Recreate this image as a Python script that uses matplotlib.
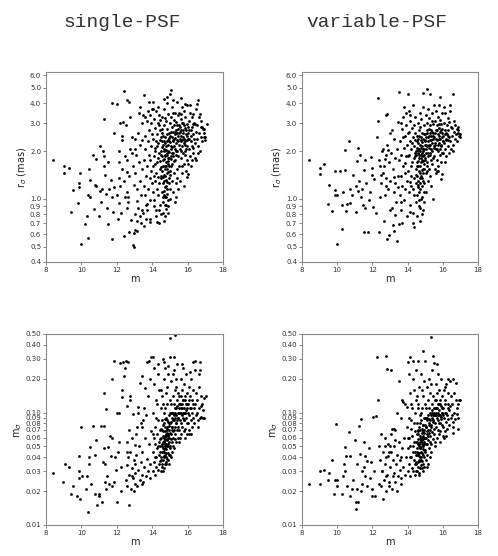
import matplotlib
matplotlib.use('Agg')
import matplotlib.pyplot as plt
import numpy as np
from matplotlib.ticker import FixedLocator, FixedFormatter, NullLocator

# panel titles
titles = ['single-PSF', 'variable-PSF']

# x axis (magnitude m)
m_ticks = [8, 10, 12, 14, 16, 18]

# y ticks for r_sigma (mas) and m_sigma
r_ticks = [0.4, 0.5, 0.6, 0.7, 0.8, 0.9, 1.0, 2.0, 3.0, 4.0, 5.0, 6.0]
msig_ticks = [0.01, 0.02, 0.03, 0.04, 0.05, 0.06, 0.07, 0.08, 0.09, 0.10, 0.20, 0.30, 0.40, 0.50]

# ---- single-PSF, r_sigma (m, mas) ----
single_r = [
    (8.4, 1.75), (9.0, 1.6), (9.0, 1.45), (9.3, 1.56), (9.5, 1.13), (9.4, 0.83), (9.8, 0.94), (9.85, 1.25),
    (9.87, 1.19), (9.9, 1.45), (10.0, 0.52), (10.2, 0.69), (10.3, 0.78), (10.4, 0.57), (10.4, 1.05), (10.45, 1.54),
    (10.5, 1.32), (10.5, 1.03), (10.65, 1.9), (10.7, 0.86), (10.75, 1.23), (10.85, 1.2), (10.85, 1.78), (11.0, 0.78),
    (11.05, 2.15), (11.05, 1.12), (11.1, 0.96), (11.15, 1.15), (11.2, 2.0), (11.25, 3.2), (11.3, 1.85), (11.3, 1.62),
    (11.35, 1.42), (11.4, 1.07), (11.45, 0.88), (11.5, 0.69), (11.5, 1.7), (11.55, 1.16), (11.65, 1.32), (11.7, 1.02),
    (11.7, 4.0), (11.75, 0.56), (11.8, 0.83), (11.85, 2.6), (11.85, 1.19), (12.0, 3.95), (12.0, 1.05), (12.05, 0.75),
    (12.1, 2.0), (12.1, 1.35), (12.15, 0.94), (12.2, 3.0), (12.25, 0.82), (12.3, 2.5), (12.3, 2.35), (12.35, 3.05),
    (12.4, 4.8), (12.4, 0.58), (12.45, 1.03), (12.5, 2.9), (12.55, 0.88), (12.55, 1.47), (12.6, 4.2), (12.65, 1.02),
    (12.7, 4.1), (12.7, 0.62), (12.75, 3.3), (12.8, 0.74), (12.85, 2.45), (12.9, 0.51), (12.95, 0.61), (12.95, 0.5),
    (13.0, 0.8), (13.05, 2.07), (13.05, 0.64), (13.15, 0.63), (13.15, 0.97), (13.3, 0.78), (13.3, 3.8), (13.35, 0.7),
    (13.4, 0.85), (13.45, 2.35), (13.5, 3.4), (13.55, 4.5), (13.55, 0.67), (13.65, 0.75), (13.7, 0.93), (13.8, 4.05),
    (13.85, 0.71), (14.0, 3.7), (14.05, 4.1), (14.2, 0.85), (14.25, 0.71), (14.4, 0.7), (14.65, 4.25), (14.85, 4.4),
    (14.9, 0.82), (15.0, 4.55), (15.05, 4.85), (15.2, 4.2), (15.35, 1.03), (15.6, 4.3), (15.85, 3.95), (15.95, 1.37),
    (16.05, 1.44), (16.45, 1.75), (16.55, 3.95), (16.6, 4.2), (16.7, 3.45), (16.8, 2.85), (16.9, 2.45), (17.0, 2.35),
    (17.1, 2.95), (16.95, 2.75),
    (13.05, 1.45), (13.1, 1.9), (13.12, 1.15), (13.18, 2.6), (13.22, 0.88), (13.25, 1.7), (13.3, 1.3), (13.33, 2.2),
    (13.38, 1.05), (13.42, 3.0), (13.45, 1.55), (13.48, 0.82), (13.02, 2.4), (13.15, 0.72), (13.28, 3.5), (12.9, 1.6),
    (12.95, 1.22), (12.85, 1.95), (12.7, 1.4), (12.6, 1.75), (12.75, 2.05), (12.55, 1.1), (12.45, 1.85), (12.65, 0.95),
    (12.3, 1.55), (12.2, 1.2), (12.15, 1.7), (12.4, 1.3),
    (13.52, 1.2), (13.55, 1.75), (13.58, 2.5), (13.6, 1.05), (13.62, 2.05), (13.65, 1.4), (13.68, 3.1), (13.7, 0.85),
    (13.72, 1.6), (13.75, 2.3), (13.78, 1.15), (13.8, 2.7), (13.82, 1.9), (13.85, 1.35), (13.88, 3.4), (13.9, 0.98),
    (13.92, 2.15), (13.95, 1.5), (13.97, 2.55), (13.99, 1.25), (13.6, 3.3), (13.75, 3.6), (13.85, 0.75), (13.95, 3.0),
    (13.65, 0.92), (13.9, 1.75),
    (14.02, 1.1), (14.04, 2.4), (14.06, 1.6), (14.08, 3.2), (14.1, 0.9), (14.12, 1.85), (14.14, 2.8), (14.16, 1.3),
    (14.18, 2.1), (14.2, 3.6), (14.22, 1.45), (14.24, 0.78), (14.26, 2.55), (14.28, 1.7), (14.3, 3.0), (14.32, 1.05),
    (14.34, 2.25), (14.36, 1.95), (14.38, 3.4), (14.4, 1.25), (14.42, 2.7), (14.44, 0.92), (14.46, 1.55), (14.48, 2.0),
    (14.05, 3.7), (14.15, 2.0), (14.25, 1.15), (14.35, 3.8), (14.45, 2.35), (14.12, 0.98), (14.3, 1.8), (14.4, 2.9),
    (14.2, 2.3), (14.48, 1.35), (14.38, 0.85), (14.08, 1.4), (14.28, 2.15), (14.45, 3.15), (14.18, 1.65), (14.33, 1.38),
    (14.5, 0.8), (14.52, 1.9), (14.53, 2.6), (14.55, 1.1), (14.56, 3.3), (14.58, 1.5), (14.6, 2.2), (14.61, 0.95),
    (14.62, 1.75), (14.64, 2.9), (14.65, 1.3), (14.66, 0.72), (14.68, 2.05), (14.69, 3.7), (14.7, 1.6), (14.72, 1.02),
    (14.73, 2.45), (14.74, 1.85), (14.76, 3.1), (14.77, 1.2), (14.78, 0.86), (14.8, 2.15), (14.81, 1.45), (14.82, 2.75),
    (14.84, 1.95), (14.85, 4.0), (14.86, 1.08), (14.88, 2.35), (14.89, 1.65), (14.9, 3.45), (14.91, 0.9), (14.92, 2.0),
    (14.94, 1.35), (14.95, 2.6), (14.96, 1.8), (14.98, 3.0), (14.99, 1.15), (14.55, 2.3), (14.6, 1.25), (14.65, 2.0),
    (14.7, 1.4), (14.75, 2.25), (14.8, 1.7), (14.85, 1.55), (14.9, 2.2), (14.95, 1.25), (14.58, 2.75), (14.63, 1.62),
    (14.71, 1.9), (14.79, 1.02), (14.87, 1.82), (14.93, 1.6), (14.52, 1.4), (14.67, 1.12), (14.83, 1.28), (14.97, 2.3),
    (14.74, 0.78), (14.6, 0.82), (14.88, 0.98), (14.7, 3.25),
    (15.0, 1.5), (15.02, 2.5), (15.03, 1.0), (15.05, 3.3), (15.06, 1.85), (15.08, 2.15), (15.1, 1.3), (15.11, 2.85),
    (15.13, 1.65), (15.14, 3.8), (15.15, 2.3), (15.17, 1.1), (15.18, 2.65), (15.2, 1.95), (15.21, 3.15), (15.23, 1.45),
    (15.24, 2.4), (15.26, 0.95), (15.27, 2.05), (15.29, 3.5), (15.3, 1.75), (15.32, 2.7), (15.33, 1.25), (15.35, 2.25),
    (15.36, 3.05), (15.38, 1.55), (15.39, 4.1), (15.41, 2.0), (15.42, 2.9), (15.44, 1.15), (15.45, 2.5), (15.47, 1.85),
    (15.48, 3.4), (15.49, 2.2), (15.05, 2.05), (15.12, 2.45), (15.22, 1.72), (15.28, 2.55), (15.34, 2.0), (15.4, 1.35),
    (15.46, 2.75), (15.16, 3.5), (15.08, 1.62), (15.25, 2.9), (15.38, 2.35),
    (15.5, 1.6), (15.52, 2.6), (15.54, 3.5), (15.55, 2.05), (15.57, 1.3), (15.59, 2.85), (15.6, 2.3), (15.62, 1.8),
    (15.64, 3.2), (15.65, 2.5), (15.67, 1.45), (15.69, 3.8), (15.7, 2.15), (15.72, 2.7), (15.74, 1.95), (15.75, 3.0),
    (15.77, 2.4), (15.79, 1.65), (15.8, 3.6), (15.82, 2.25), (15.84, 2.8), (15.85, 1.9), (15.87, 3.3), (15.89, 2.55),
    (15.9, 2.05), (15.92, 1.5), (15.94, 2.95), (15.95, 2.35), (15.97, 3.9), (15.99, 1.75), (15.56, 2.4), (15.63, 2.0),
    (15.73, 2.45), (15.78, 1.2), (15.86, 2.3), (15.93, 2.7), (15.6, 3.45), (15.7, 1.6), (15.83, 2.0), (15.96, 2.15),
    (16.02, 2.4), (16.04, 1.65), (16.06, 3.1), (16.08, 2.05), (16.1, 2.7), (16.12, 1.85), (16.15, 3.5), (16.17, 2.3),
    (16.2, 1.6), (16.22, 2.85), (16.25, 2.15), (16.27, 3.3), (16.3, 1.95), (16.32, 2.55), (16.35, 2.4), (16.38, 3.0),
    (16.4, 1.8), (16.43, 2.25), (16.45, 2.65), (16.48, 3.7), (16.05, 2.6), (16.18, 2.5), (16.28, 2.1), (16.42, 2.95),
    (16.12, 3.9), (16.33, 3.45), (16.24, 1.75),
    (16.52, 2.4), (16.55, 2.9), (16.58, 2.15), (16.62, 3.3), (16.65, 2.6), (16.7, 2.0), (16.73, 2.45), (16.78, 3.1),
    (16.82, 2.3), (16.88, 2.75), (16.92, 2.6), (17.0, 2.45), (16.6, 1.95), (16.75, 2.85),
    (14.43, 1.72), (14.47, 2.45), (14.51, 1.58), (14.54, 2.12), (14.57, 1.85), (14.59, 1.03), (14.62, 2.48),
    (14.64, 1.42), (14.67, 1.78), (14.69, 2.3), (14.71, 1.55), (14.73, 0.92), (14.76, 2.02), (14.78, 1.62),
    (14.81, 2.32), (14.83, 1.88), (14.86, 2.55), (14.88, 1.48), (14.91, 1.72), (14.93, 2.42), (14.96, 1.98),
    (14.98, 1.42), (15.01, 2.28), (15.04, 1.78), (15.07, 2.62), (15.09, 1.95), (15.12, 2.12), (15.15, 1.85),
    (15.19, 2.35), (15.22, 2.15), (15.26, 2.65), (15.31, 2.42), (15.35, 1.9), (15.4, 2.6), (15.44, 2.3), (15.5, 2.9),
    (15.55, 2.62), (15.61, 2.72), (15.66, 3.0), (15.71, 2.35), (15.76, 2.6), (15.81, 2.9), (15.88, 2.2), (15.95, 2.5),
    (16.03, 2.85), (16.1, 2.4), (16.2, 2.7), (16.3, 2.95), (14.66, 1.05), (14.72, 1.18), (14.8, 0.92), (14.84, 1.15),
    (14.62, 1.38), (14.76, 1.32),
]

# ---- variable-PSF, r_sigma (m, mas) ----
variable_r = [
    (8.4, 1.75), (9.05, 1.56), (9.05, 1.43), (9.25, 1.65), (9.45, 0.93), (9.55, 1.23), (9.7, 0.84), (9.85, 1.14),
    (9.85, 1.06), (9.9, 1.49), (10.0, 1.06), (10.0, 0.52), (10.15, 1.5), (10.3, 0.65), (10.3, 0.91), (10.35, 1.11),
    (10.45, 2.04), (10.45, 1.51), (10.5, 0.84), (10.55, 0.93), (10.65, 2.33), (10.7, 0.94), (10.75, 1.16), (10.85, 1.05),
    (10.9, 1.41), (11.05, 0.83), (11.05, 1.2), (11.15, 1.73), (11.2, 2.08), (11.2, 1.12), (11.25, 1.3), (11.3, 1.9),
    (11.35, 1.03), (11.4, 1.16), (11.45, 0.92), (11.5, 0.62), (11.5, 1.53), (11.6, 0.87), (11.6, 1.75), (11.65, 1.25),
    (11.75, 0.62), (11.8, 0.99), (11.85, 1.1), (11.9, 1.83), (11.95, 1.41), (12.0, 1.56), (12.05, 0.89), (12.1, 1.34),
    (12.2, 0.81), (12.25, 2.45), (12.3, 4.35), (12.3, 3.1), (12.35, 1.75), (12.35, 0.62), (12.45, 1.03), (12.5, 1.41),
    (12.6, 2.06), (12.65, 0.73), (12.7, 1.77), (12.75, 3.37), (12.8, 1.2), (12.85, 0.56), (12.85, 3.45), (12.9, 2.02),
    (12.95, 0.59), (13.0, 0.85), (13.1, 2.7), (13.15, 0.68), (13.2, 1.38), (13.25, 0.63), (13.3, 0.79), (13.4, 0.54),
    (13.45, 1.19), (13.5, 4.7), (13.5, 0.69), (13.6, 0.95), (13.7, 0.7), (14.0, 4.6), (14.15, 0.83), (14.3, 0.7),
    (14.35, 0.66), (14.85, 4.65), (15.1, 4.9), (15.3, 4.6), (15.85, 4.4), (16.6, 4.6), (16.4, 3.9), (15.65, 1.5),
    (15.9, 1.34), (15.95, 1.44), (16.85, 2.85), (16.95, 2.55),
    (12.42, 1.6), (12.5, 1.25), (12.55, 2.0), (12.62, 1.45), (12.7, 1.05), (12.75, 1.9), (12.8, 1.35), (12.85, 2.2),
    (12.9, 1.15), (12.95, 1.7), (13.0, 1.3), (13.05, 1.95), (13.1, 0.88), (13.15, 1.55), (13.2, 2.4), (13.25, 1.1),
    (13.3, 1.8), (13.35, 0.95), (13.4, 2.05), (13.45, 1.4), (13.48, 3.05), (12.65, 1.6), (13.0, 2.6), (13.3, 1.25),
    (13.52, 1.75), (13.55, 1.05), (13.58, 2.3), (13.6, 1.4), (13.63, 0.85), (13.65, 1.9), (13.68, 2.75), (13.7, 1.2),
    (13.73, 1.6), (13.75, 3.3), (13.78, 0.98), (13.8, 2.1), (13.83, 1.45), (13.85, 2.5), (13.88, 1.15), (13.9, 1.85),
    (13.93, 3.5), (13.95, 1.3), (13.97, 2.2), (13.99, 0.78), (13.62, 3.0), (13.8, 3.8), (13.9, 2.9), (13.72, 2.45),
    (13.86, 1.68),
    (14.02, 1.5), (14.04, 2.6), (14.06, 1.1), (14.08, 3.6), (14.1, 1.9), (14.12, 0.92), (14.14, 2.3), (14.16, 3.1),
    (14.18, 1.4), (14.2, 2.05), (14.22, 1.2), (14.24, 2.8), (14.26, 1.7), (14.28, 0.82), (14.3, 2.45), (14.32, 3.9),
    (14.34, 1.35), (14.36, 2.15), (14.38, 1.05), (14.4, 3.3), (14.42, 1.85), (14.44, 2.6), (14.46, 1.25), (14.48, 2.0),
    (14.1, 2.65), (14.2, 1.62), (14.3, 1.15), (14.4, 2.35), (14.15, 3.4), (14.35, 1.8), (14.45, 0.95), (14.25, 2.25),
    (14.05, 1.85), (14.38, 2.9), (14.47, 1.55), (14.13, 1.28),
    (14.5, 1.9), (14.52, 1.05), (14.53, 2.5), (14.55, 0.78), (14.56, 2.1), (14.58, 1.6), (14.6, 3.0), (14.61, 1.3),
    (14.62, 2.25), (14.64, 0.9), (14.65, 1.8), (14.66, 2.7), (14.68, 1.15), (14.69, 3.5), (14.7, 2.0), (14.72, 1.45),
    (14.73, 0.72), (14.74, 2.35), (14.76, 1.7), (14.77, 3.2), (14.78, 1.0), (14.8, 1.95), (14.81, 2.6), (14.82, 1.35),
    (14.84, 2.15), (14.85, 0.85), (14.86, 3.8), (14.88, 1.55), (14.89, 2.4), (14.9, 1.85), (14.91, 1.1), (14.92, 2.9),
    (14.94, 1.65), (14.95, 2.05), (14.96, 1.25), (14.98, 2.55), (14.99, 1.75), (14.55, 1.4), (14.6, 1.95), (14.67, 1.5),
    (14.75, 1.9), (14.83, 1.75), (14.9, 1.45), (14.97, 2.2), (14.63, 2.05), (14.71, 1.25), (14.79, 2.1), (14.87, 1.3),
    (14.94, 0.95), (14.58, 2.4), (14.72, 2.85), (14.8, 0.8), (14.66, 0.98), (14.88, 2.05), (14.52, 1.7),
    (15.0, 2.3), (15.02, 1.45), (15.03, 3.4), (15.05, 1.95), (15.06, 1.1), (15.08, 2.6), (15.1, 1.7), (15.11, 3.0),
    (15.13, 2.15), (15.14, 1.3), (15.15, 2.45), (15.17, 3.7), (15.18, 1.85), (15.2, 2.75), (15.21, 1.55), (15.23, 2.1),
    (15.24, 3.25), (15.26, 1.4), (15.27, 2.35), (15.29, 1.95), (15.3, 2.9), (15.32, 1.2), (15.33, 2.5), (15.35, 2.05),
    (15.36, 3.5), (15.38, 1.65), (15.39, 2.65), (15.41, 2.25), (15.42, 1.0), (15.44, 2.95), (15.45, 1.8), (15.47, 2.4),
    (15.48, 3.9), (15.49, 2.1), (15.07, 2.05), (15.16, 2.3), (15.25, 2.6), (15.33, 1.75), (15.4, 3.1), (15.46, 2.6),
    (15.12, 1.5), (15.28, 2.2),
    (15.5, 2.45), (15.52, 1.85), (15.54, 3.1), (15.55, 2.2), (15.57, 1.55), (15.59, 2.7), (15.6, 3.6), (15.62, 2.05),
    (15.64, 1.45), (15.65, 2.9), (15.67, 2.35), (15.69, 1.75), (15.7, 3.3), (15.72, 2.55), (15.74, 2.0), (15.75, 1.6),
    (15.77, 2.8), (15.79, 3.9), (15.8, 2.25), (15.82, 1.9), (15.84, 2.65), (15.85, 3.15), (15.87, 2.4), (15.89, 1.7),
    (15.9, 2.95), (15.92, 2.15), (15.94, 3.5), (15.95, 1.95), (15.97, 2.6), (15.99, 2.3), (15.58, 2.25), (15.66, 2.05),
    (15.76, 2.4), (15.83, 2.05), (15.93, 2.45), (15.7, 1.5), (15.88, 2.7),
    (16.02, 2.5), (16.04, 1.95), (16.06, 3.0), (16.08, 2.25), (16.1, 2.7), (16.12, 3.5), (16.15, 2.05), (16.17, 2.4),
    (16.2, 1.85), (16.22, 2.9), (16.25, 2.55), (16.27, 3.25), (16.3, 2.15), (16.32, 2.7), (16.35, 1.95), (16.38, 2.45),
    (16.4, 3.6), (16.43, 2.3), (16.45, 2.85), (16.48, 2.05), (16.07, 3.8), (16.18, 2.6), (16.28, 2.35), (16.37, 3.05),
    (16.14, 1.7),
    (16.52, 2.5), (16.55, 2.8), (16.58, 2.2), (16.62, 2.65), (16.65, 3.1), (16.68, 2.4), (16.72, 2.9), (16.75, 2.55),
    (16.8, 2.3), (16.85, 2.7), (16.9, 2.5), (16.95, 2.45), (16.6, 2.0), (16.78, 2.75), (16.88, 2.6),
    (14.43, 1.95), (14.47, 1.42), (14.51, 2.3), (14.54, 1.62), (14.57, 2.02), (14.59, 1.18), (14.62, 1.72),
    (14.64, 2.5), (14.67, 1.88), (14.69, 1.35), (14.71, 2.18), (14.73, 1.6), (14.76, 2.45), (14.78, 1.82),
    (14.81, 1.52), (14.83, 2.28), (14.86, 2.0), (14.88, 1.72), (14.91, 2.55), (14.93, 1.9), (14.96, 1.55),
    (14.98, 2.35), (15.01, 1.8), (15.04, 2.45), (15.07, 2.2), (15.09, 1.62), (15.12, 2.7), (15.15, 1.95),
    (15.19, 2.2), (15.22, 2.5), (15.26, 1.9), (15.31, 2.35), (15.35, 2.7), (15.4, 2.0), (15.44, 2.5), (15.5, 2.15),
    (15.55, 2.6), (15.61, 2.4), (15.66, 2.7), (15.71, 2.2), (15.76, 2.95), (15.81, 2.5), (15.88, 2.2), (15.95, 2.75),
    (16.03, 2.3), (16.1, 2.55), (16.2, 2.35), (16.3, 2.5), (14.66, 1.1), (14.72, 0.88), (14.8, 1.2), (14.84, 1.02),
    (14.6, 1.22), (14.75, 1.4),
]

# ---- single-PSF, m_sigma ----
single_m = [
    (8.4, 0.029), (8.98, 0.024), (9.1, 0.035), (9.3, 0.033), (9.4, 0.019), (9.5, 0.022), (9.75, 0.018), (9.85, 0.026),
    (9.85, 0.030), (9.85, 0.041), (9.9, 0.017), (10.0, 0.075), (10.05, 0.027), (10.25, 0.021), (10.3, 0.027),
    (10.35, 0.013), (10.45, 0.035), (10.45, 0.040), (10.5, 0.049), (10.55, 0.023), (10.65, 0.076), (10.75, 0.019),
    (10.75, 0.042), (10.85, 0.057), (10.9, 0.015), (11.0, 0.019), (11.0, 0.018), (11.1, 0.076), (11.15, 0.016),
    (11.2, 0.036), (11.25, 0.15), (11.3, 0.076), (11.3, 0.048), (11.35, 0.035), (11.35, 0.024), (11.4, 0.021),
    (11.4, 0.107), (11.45, 0.027), (11.5, 0.049), (11.55, 0.023), (11.6, 0.062), (11.65, 0.041), (11.7, 0.20),
    (11.7, 0.022), (11.75, 0.06), (11.85, 0.285), (11.85, 0.024), (11.9, 0.04), (11.95, 0.031), (12.0, 0.10),
    (12.0, 0.016), (12.05, 0.045), (12.15, 0.055), (12.15, 0.10), (12.2, 0.275), (12.25, 0.02), (12.25, 0.033),
    (12.3, 0.16), (12.3, 0.137), (12.35, 0.28), (12.4, 0.21), (12.45, 0.25), (12.5, 0.29), (12.55, 0.115),
    (12.55, 0.045), (12.65, 0.28), (12.7, 0.015), (12.75, 0.14), (12.75, 0.13), (12.85, 0.027), (12.9, 0.097),
    (12.95, 0.02), (13.0, 0.035), (13.05, 0.051), (13.15, 0.075), (13.2, 0.113), (13.3, 0.185), (13.4, 0.21),
    (13.45, 0.023), (13.5, 0.086), (13.6, 0.165), (13.7, 0.28), (13.8, 0.285), (13.95, 0.31), (14.05, 0.31),
    (14.6, 0.30), (15.0, 0.46), (15.3, 0.49), (15.0, 0.31), (15.25, 0.31), (16.4, 0.285), (16.7, 0.28), (16.7, 0.24),
    (16.65, 0.22), (16.75, 0.115), (16.9, 0.135), (17.05, 0.14), (16.75, 0.092), (16.95, 0.089), (16.85, 0.105),
    (12.5, 0.025), (12.55, 0.034), (12.6, 0.022), (12.65, 0.04), (12.7, 0.028), (12.75, 0.045), (12.8, 0.021),
    (12.85, 0.032), (12.9, 0.026), (12.95, 0.038), (13.0, 0.023), (13.05, 0.029), (13.1, 0.042), (13.15, 0.022),
    (13.2, 0.031), (13.25, 0.05), (13.3, 0.025), (13.35, 0.036), (13.4, 0.028), (13.45, 0.045), (13.5, 0.024),
    (13.55, 0.033), (13.6, 0.06), (13.65, 0.027), (13.7, 0.039), (13.75, 0.03), (13.8, 0.052), (13.85, 0.026),
    (13.9, 0.035), (13.95, 0.068), (12.6, 0.055), (12.85, 0.06), (13.1, 0.065), (13.35, 0.08), (13.55, 0.11),
    (13.75, 0.14), (13.9, 0.2), (13.65, 0.095), (13.2, 0.1), (13.45, 0.075), (12.7, 0.07),
    (14.02, 0.03), (14.04, 0.045), (14.06, 0.1), (14.08, 0.036), (14.1, 0.06), (14.12, 0.18), (14.14, 0.028),
    (14.16, 0.052), (14.18, 0.075), (14.2, 0.04), (14.22, 0.13), (14.24, 0.033), (14.26, 0.065), (14.28, 0.048),
    (14.3, 0.22), (14.32, 0.031), (14.34, 0.085), (14.36, 0.042), (14.38, 0.055), (14.4, 0.16), (14.42, 0.037),
    (14.44, 0.07), (14.46, 0.045), (14.48, 0.11), (14.1, 0.25), (14.2, 0.09), (14.3, 0.05), (14.4, 0.035),
    (14.45, 0.058), (14.15, 0.04), (14.35, 0.27), (14.25, 0.12), (14.05, 0.065), (14.47, 0.03),
    (14.5, 0.04), (14.52, 0.06), (14.53, 0.033), (14.55, 0.085), (14.56, 0.05), (14.58, 0.14), (14.6, 0.038),
    (14.61, 0.068), (14.62, 0.045), (14.64, 0.2), (14.65, 0.055), (14.66, 0.032), (14.68, 0.1), (14.69, 0.06),
    (14.7, 0.042), (14.72, 0.075), (14.73, 0.05), (14.74, 0.25), (14.76, 0.036), (14.77, 0.065), (14.78, 0.09),
    (14.8, 0.047), (14.81, 0.12), (14.82, 0.058), (14.84, 0.039), (14.85, 0.17), (14.86, 0.07), (14.88, 0.052),
    (14.89, 0.082), (14.9, 0.044), (14.91, 0.22), (14.92, 0.062), (14.94, 0.035), (14.95, 0.095), (14.96, 0.055),
    (14.98, 0.13), (14.99, 0.048), (14.55, 0.045), (14.6, 0.055), (14.65, 0.04), (14.7, 0.058), (14.75, 0.048),
    (14.8, 0.062), (14.85, 0.05), (14.9, 0.065), (14.95, 0.07), (14.58, 0.07), (14.63, 0.03), (14.71, 0.035),
    (14.79, 0.04), (14.87, 0.038), (14.93, 0.042), (14.67, 0.08), (14.83, 0.075), (14.97, 0.08), (14.52, 0.16),
    (14.68, 0.28), (14.88, 0.26), (14.75, 0.11), (14.62, 0.12), (14.8, 0.15),
    (15.0, 0.05), (15.02, 0.08), (15.03, 0.042), (15.05, 0.12), (15.06, 0.065), (15.08, 0.19), (15.1, 0.055),
    (15.11, 0.09), (15.13, 0.045), (15.14, 0.075), (15.15, 0.14), (15.17, 0.06), (15.18, 0.1), (15.2, 0.05),
    (15.21, 0.24), (15.23, 0.07), (15.24, 0.085), (15.26, 0.058), (15.27, 0.16), (15.29, 0.11), (15.3, 0.065),
    (15.32, 0.08), (15.33, 0.2), (15.35, 0.055), (15.36, 0.095), (15.38, 0.13), (15.39, 0.07), (15.41, 0.27),
    (15.42, 0.085), (15.44, 0.06), (15.45, 0.15), (15.47, 0.1), (15.48, 0.075), (15.49, 0.12), (15.04, 0.1),
    (15.12, 0.07), (15.22, 0.12), (15.28, 0.09), (15.37, 0.11), (15.46, 0.09), (15.16, 0.22), (15.34, 0.17),
    (15.08, 0.04), (15.25, 0.048),
    (15.5, 0.07), (15.52, 0.1), (15.54, 0.14), (15.55, 0.085), (15.57, 0.06), (15.59, 0.12), (15.6, 0.2),
    (15.62, 0.08), (15.64, 0.11), (15.65, 0.065), (15.67, 0.16), (15.69, 0.095), (15.7, 0.075), (15.72, 0.13),
    (15.74, 0.25), (15.75, 0.09), (15.77, 0.068), (15.79, 0.11), (15.8, 0.18), (15.82, 0.085), (15.84, 0.14),
    (15.85, 0.1), (15.87, 0.072), (15.89, 0.12), (15.9, 0.22), (15.92, 0.09), (15.94, 0.15), (15.95, 0.08),
    (15.97, 0.11), (15.99, 0.065), (15.56, 0.1), (15.63, 0.14), (15.73, 0.1), (15.78, 0.085), (15.86, 0.13),
    (15.93, 0.105), (15.66, 0.27), (15.83, 0.06), (15.53, 0.055),
    (16.02, 0.08), (16.04, 0.12), (16.06, 0.095), (16.08, 0.17), (16.1, 0.07), (16.12, 0.11), (16.15, 0.14),
    (16.17, 0.085), (16.2, 0.2), (16.22, 0.1), (16.25, 0.075), (16.27, 0.13), (16.3, 0.09), (16.32, 0.16),
    (16.35, 0.11), (16.38, 0.08), (16.4, 0.24), (16.43, 0.12), (16.45, 0.095), (16.48, 0.15), (16.08, 0.065),
    (16.2, 0.065), (16.3, 0.28), (16.12, 0.23),
    (16.52, 0.1), (16.55, 0.13), (16.58, 0.085), (16.62, 0.17), (16.65, 0.11), (16.7, 0.09), (16.75, 0.14),
    (16.8, 0.12), (16.6, 0.075), (16.85, 0.09),
    (14.43, 0.05), (14.47, 0.038), (14.51, 0.072), (14.54, 0.052), (14.57, 0.035), (14.59, 0.062), (14.62, 0.078),
    (14.64, 0.047), (14.67, 0.056), (14.69, 0.041), (14.71, 0.068), (14.73, 0.088), (14.76, 0.053), (14.78, 0.044),
    (14.81, 0.072), (14.83, 0.057), (14.86, 0.085), (14.88, 0.063), (14.91, 0.05), (14.93, 0.076), (14.96, 0.06),
    (14.98, 0.1), (15.01, 0.066), (15.04, 0.082), (15.07, 0.058), (15.09, 0.075), (15.12, 0.1), (15.15, 0.068),
    (15.19, 0.085), (15.22, 0.095), (15.26, 0.075), (15.31, 0.1), (15.35, 0.08), (15.4, 0.115), (15.44, 0.09),
    (15.5, 0.11), (15.55, 0.12), (15.61, 0.1), (15.66, 0.12), (15.71, 0.11), (15.76, 0.13), (15.81, 0.1),
    (15.88, 0.1), (15.95, 0.12), (16.03, 0.1), (16.1, 0.13), (16.2, 0.11), (16.3, 0.12), (14.66, 0.045),
    (14.72, 0.052), (14.8, 0.035), (14.84, 0.066), (14.6, 0.048), (14.75, 0.062),
]

# ---- variable-PSF, m_sigma ----
variable_m = [
    (8.4, 0.023), (9.05, 0.030), (9.05, 0.023), (9.25, 0.031), (9.45, 0.025), (9.55, 0.029), (9.7, 0.038),
    (9.8, 0.019), (9.85, 0.025), (9.95, 0.079), (10.0, 0.022), (10.0, 0.025), (10.25, 0.019), (10.35, 0.027),
    (10.4, 0.035), (10.45, 0.049), (10.45, 0.03), (10.5, 0.041), (10.55, 0.022), (10.65, 0.067), (10.7, 0.041),
    (10.75, 0.018), (10.85, 0.021), (10.9, 0.025), (11.0, 0.057), (11.05, 0.016), (11.05, 0.014), (11.1, 0.021),
    (11.15, 0.035), (11.2, 0.016), (11.25, 0.076), (11.3, 0.043), (11.35, 0.087), (11.35, 0.02), (11.4, 0.03),
    (11.4, 0.023), (11.5, 0.033), (11.55, 0.055), (11.6, 0.041), (11.6, 0.027), (11.7, 0.022), (11.7, 0.037),
    (11.8, 0.048), (11.85, 0.026), (11.9, 0.036), (11.95, 0.021), (12.0, 0.018), (12.05, 0.092), (12.1, 0.03),
    (12.15, 0.018), (12.2, 0.094), (12.25, 0.31), (12.3, 0.13), (12.35, 0.05), (12.4, 0.023), (12.45, 0.038),
    (12.5, 0.065), (12.55, 0.03), (12.6, 0.017), (12.7, 0.05), (12.75, 0.32), (12.8, 0.027), (12.85, 0.245),
    (12.9, 0.041), (12.95, 0.022), (13.0, 0.05), (13.05, 0.24), (13.1, 0.072), (13.15, 0.027), (13.25, 0.072),
    (13.3, 0.057), (13.4, 0.02), (13.5, 0.19), (13.55, 0.038), (13.6, 0.023), (13.75, 0.125), (13.95, 0.113),
    (14.05, 0.28), (14.15, 0.31), (14.3, 0.285), (14.5, 0.24), (14.6, 0.29), (14.85, 0.35), (15.0, 0.29),
    (15.35, 0.47), (15.45, 0.32), (15.5, 0.275), (15.65, 0.27), (16.6, 0.20), (16.75, 0.185), (16.9, 0.13),
    (16.8, 0.098), (16.85, 0.071), (16.6, 0.066),
    (12.5, 0.022), (12.55, 0.03), (12.6, 0.045), (12.65, 0.025), (12.7, 0.035), (12.75, 0.02), (12.8, 0.04),
    (12.85, 0.028), (12.9, 0.052), (12.95, 0.024), (13.0, 0.033), (13.05, 0.045), (13.1, 0.021), (13.15, 0.038),
    (13.2, 0.029), (13.25, 0.05), (13.3, 0.024), (13.35, 0.035), (13.4, 0.042), (13.45, 0.027), (13.5, 0.055),
    (13.55, 0.031), (13.6, 0.04), (13.65, 0.026), (13.7, 0.048), (13.75, 0.033), (13.8, 0.06), (13.85, 0.028),
    (13.9, 0.04), (13.95, 0.075), (12.7, 0.06), (13.05, 0.065), (13.3, 0.07), (13.6, 0.09), (13.85, 0.12),
    (13.4, 0.1), (12.95, 0.045), (13.7, 0.13),
    (14.02, 0.03), (14.04, 0.048), (14.06, 0.09), (14.08, 0.035), (14.1, 0.06), (14.12, 0.15), (14.14, 0.027),
    (14.16, 0.05), (14.18, 0.072), (14.2, 0.04), (14.22, 0.12), (14.24, 0.032), (14.26, 0.062), (14.28, 0.045),
    (14.3, 0.2), (14.32, 0.03), (14.34, 0.08), (14.36, 0.038), (14.38, 0.055), (14.4, 0.1), (14.42, 0.035),
    (14.44, 0.068), (14.46, 0.042), (14.48, 0.13), (14.1, 0.22), (14.2, 0.085), (14.3, 0.05), (14.4, 0.028),
    (14.45, 0.055), (14.15, 0.04), (14.35, 0.16), (14.25, 0.11), (14.05, 0.06), (14.47, 0.03),
    (14.5, 0.035), (14.52, 0.055), (14.53, 0.03), (14.55, 0.08), (14.56, 0.045), (14.58, 0.12), (14.6, 0.036),
    (14.61, 0.065), (14.62, 0.042), (14.64, 0.17), (14.65, 0.05), (14.66, 0.028), (14.68, 0.095), (14.69, 0.058),
    (14.7, 0.04), (14.72, 0.07), (14.73, 0.048), (14.74, 0.22), (14.76, 0.034), (14.77, 0.06), (14.78, 0.085),
    (14.8, 0.044), (14.81, 0.11), (14.82, 0.055), (14.84, 0.037), (14.85, 0.14), (14.86, 0.068), (14.88, 0.05),
    (14.89, 0.078), (14.9, 0.042), (14.91, 0.19), (14.92, 0.06), (14.94, 0.033), (14.95, 0.09), (14.96, 0.052),
    (14.98, 0.12), (14.99, 0.046), (14.55, 0.042), (14.6, 0.052), (14.65, 0.038), (14.7, 0.055), (14.75, 0.045),
    (14.8, 0.058), (14.85, 0.047), (14.9, 0.062), (14.95, 0.066), (14.58, 0.068), (14.63, 0.029), (14.71, 0.032),
    (14.79, 0.038), (14.87, 0.035), (14.93, 0.04), (14.67, 0.075), (14.83, 0.072), (14.97, 0.078), (14.52, 0.14),
    (14.76, 0.1), (14.62, 0.11), (14.8, 0.16), (14.9, 0.03),
    (15.0, 0.045), (15.02, 0.075), (15.03, 0.038), (15.05, 0.11), (15.06, 0.06), (15.08, 0.17), (15.1, 0.052),
    (15.11, 0.085), (15.13, 0.042), (15.14, 0.07), (15.15, 0.13), (15.17, 0.057), (15.18, 0.095), (15.2, 0.048),
    (15.21, 0.2), (15.23, 0.066), (15.24, 0.08), (15.26, 0.055), (15.27, 0.15), (15.29, 0.1), (15.3, 0.062),
    (15.32, 0.077), (15.33, 0.18), (15.35, 0.052), (15.36, 0.09), (15.38, 0.12), (15.39, 0.067), (15.41, 0.24),
    (15.42, 0.082), (15.44, 0.058), (15.45, 0.14), (15.47, 0.095), (15.48, 0.072), (15.49, 0.11), (15.04, 0.09),
    (15.12, 0.065), (15.22, 0.11), (15.28, 0.085), (15.37, 0.1), (15.46, 0.085), (15.16, 0.035), (15.34, 0.045),
    (15.08, 0.033), (15.25, 0.04),
    (15.5, 0.065), (15.52, 0.095), (15.54, 0.13), (15.55, 0.08), (15.57, 0.055), (15.59, 0.11), (15.6, 0.18),
    (15.62, 0.075), (15.64, 0.1), (15.65, 0.06), (15.67, 0.15), (15.69, 0.09), (15.7, 0.07), (15.72, 0.12),
    (15.74, 0.22), (15.75, 0.085), (15.77, 0.065), (15.79, 0.105), (15.8, 0.16), (15.82, 0.08), (15.84, 0.13),
    (15.85, 0.095), (15.87, 0.068), (15.89, 0.115), (15.9, 0.2), (15.92, 0.088), (15.94, 0.14), (15.95, 0.078),
    (15.97, 0.1), (15.99, 0.062), (15.56, 0.095), (15.63, 0.13), (15.73, 0.095), (15.78, 0.08), (15.86, 0.12),
    (15.93, 0.1), (15.83, 0.055), (15.53, 0.05),
    (16.02, 0.075), (16.04, 0.11), (16.06, 0.09), (16.08, 0.16), (16.1, 0.068), (16.12, 0.1), (16.15, 0.13),
    (16.17, 0.082), (16.2, 0.18), (16.22, 0.095), (16.25, 0.072), (16.27, 0.12), (16.3, 0.088), (16.32, 0.15),
    (16.35, 0.105), (16.38, 0.078), (16.4, 0.19), (16.43, 0.115), (16.45, 0.09), (16.48, 0.14), (16.08, 0.06),
    (16.2, 0.062), (16.3, 0.2), (16.12, 0.17),
    (16.52, 0.095), (16.55, 0.12), (16.58, 0.082), (16.62, 0.15), (16.65, 0.1), (16.7, 0.088), (16.75, 0.13),
    (16.8, 0.11), (16.6, 0.075), (16.88, 0.12), (16.85, 0.09), (16.95, 0.13),
    (14.43, 0.045), (14.47, 0.036), (14.51, 0.065), (14.54, 0.048), (14.57, 0.033), (14.59, 0.058), (14.62, 0.07),
    (14.64, 0.044), (14.67, 0.052), (14.69, 0.037), (14.71, 0.062), (14.73, 0.08), (14.76, 0.049), (14.78, 0.04),
    (14.81, 0.066), (14.83, 0.052), (14.86, 0.078), (14.88, 0.058), (14.91, 0.046), (14.93, 0.07), (14.96, 0.055),
    (14.98, 0.09), (15.01, 0.06), (15.04, 0.075), (15.07, 0.053), (15.09, 0.068), (15.12, 0.09), (15.15, 0.062),
    (15.19, 0.078), (15.22, 0.088), (15.26, 0.07), (15.31, 0.095), (15.35, 0.075), (15.4, 0.105), (15.44, 0.085),
    (15.5, 0.1), (15.55, 0.11), (15.61, 0.095), (15.66, 0.11), (15.71, 0.1), (15.76, 0.12), (15.81, 0.095),
    (15.88, 0.092), (15.95, 0.11), (16.03, 0.095), (16.1, 0.12), (16.2, 0.1), (16.3, 0.11), (14.66, 0.041),
    (14.72, 0.048), (14.8, 0.032), (14.84, 0.06), (14.6, 0.044), (14.75, 0.057),
]


def setup_axis(ax, yticks, fmt, ylim, ylabel):
    ax.set_yscale('log')
    ax.set_xlim(8, 18)
    ax.set_ylim(*ylim)
    ax.set_xticks(m_ticks)
    ax.yaxis.set_major_locator(FixedLocator(yticks))
    ax.yaxis.set_major_formatter(FixedFormatter([fmt % t for t in yticks]))
    ax.yaxis.set_minor_locator(NullLocator())
    ax.tick_params(labelsize=5, length=2, width=0.5, colors='#555555', labelcolor='#333333', pad=1.5)
    for s in ax.spines.values():
        s.set_color('#8a8a8a')
        s.set_linewidth(0.8)
    ax.set_xlabel('m', fontsize=7, color='#222222', labelpad=1)
    ax.set_ylabel(ylabel, fontsize=7, color='#222222', labelpad=1)


fig = plt.figure(figsize=(4.98, 5.56), dpi=100)

ax_pos = {
    'A': [0.0924, 0.5288, 0.3554, 0.3417],
    'B': [0.6064, 0.5288, 0.3534, 0.3417],
    'C': [0.0924, 0.0558, 0.3554, 0.3435],
    'D': [0.6064, 0.0558, 0.3534, 0.3435],
}

panels = [
    ('A', single_r, r_ticks, '%.1f', (0.4, 6.3), r'r$_\sigma$ (mas)'),
    ('B', variable_r, r_ticks, '%.1f', (0.4, 6.3), r'r$_\sigma$ (mas)'),
    ('C', single_m, msig_ticks, '%.2f', (0.01, 0.5), r'm$_\sigma$'),
    ('D', variable_m, msig_ticks, '%.2f', (0.01, 0.5), r'm$_\sigma$'),
]

for key, pts, yt, fmt, yl, lab in panels:
    ax = fig.add_axes(ax_pos[key])
    arr = np.array(pts)
    ax.scatter(arr[:, 0], arr[:, 1], s=4, c='black', linewidths=0)
    setup_axis(ax, yt, fmt, yl, lab)

fig.text(0.245, 0.960, titles[0], ha='center', va='center', fontsize=14,
         family='Liberation Mono', color='#333333')
fig.text(0.757, 0.960, titles[1], ha='center', va='center', fontsize=14,
         family='Liberation Mono', color='#333333')

fig.savefig('out.png', dpi=100)
